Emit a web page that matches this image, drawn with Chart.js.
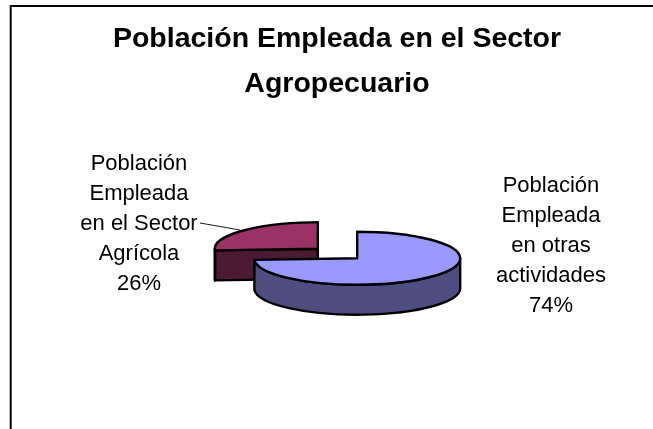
<!DOCTYPE html>
<html>
<head>
<meta charset="utf-8">
<script src="https://cdn.jsdelivr.net/npm/chart.js@4"></script>
<style>
html,body{margin:0;padding:0;background:#fff;width:653px;height:429px;overflow:hidden}
canvas{display:block}
</style>
</head>
<body>
<canvas id="c" width="653" height="429"></canvas>
<script>
const titleLines = ['Población Empleada en el Sector', 'Agropecuario'];
const categories = [
  ['Población', 'Empleada', 'en otras', 'actividades'],
  ['Población', 'Empleada', 'en el Sector', 'Agrícola']
];
const values = [74, 26];
const topColors = ['#9999FF', '#993366'];
const sideColors = ['#4D4D80', '#4D1A33'];

const FONT = '"Liberation Sans", Arial, sans-serif';
const TILT = 0.257;
const DEPTH = 30;
const EDGE = 2.4;
const EXPLODE = 27;
let squishY = 0;

function geometry(el) {
  return {
    x: el.x,
    y: squishY + (el.y - squishY) * TILT,
    r: el.outerRadius,
    a0: el.startAngle,
    a1: el.endAngle
  };
}
function stroke(ctx) {
  ctx.strokeStyle = '#000';
  ctx.lineWidth = EDGE;
  ctx.lineJoin = 'round';
  ctx.stroke();
}
function drawSides(ctx, g, color) {
  const tx = g.x + Math.cos(g.a0) * g.r, ty = g.y + Math.sin(g.a0) * g.r * TILT;
  if (Math.cos(g.a0) < -0.9 && g.a1 - g.a0 < Math.PI) {
    ctx.beginPath();
    ctx.moveTo(g.x, g.y);
    ctx.lineTo(tx, ty);
    ctx.lineTo(tx, ty + DEPTH);
    ctx.lineTo(g.x, g.y + DEPTH);
    ctx.closePath();
    ctx.fillStyle = color;
    ctx.fill();
    stroke(ctx);
  }
  const from = Math.max(g.a0, 0), to = Math.min(g.a1, Math.PI);
  if (to > from) {
    ctx.beginPath();
    ctx.ellipse(g.x, g.y, g.r, g.r * TILT, 0, from, to, false);
    ctx.ellipse(g.x, g.y + DEPTH, g.r, g.r * TILT, 0, to, from, true);
    ctx.closePath();
    ctx.fillStyle = color;
    ctx.fill();
    stroke(ctx);
  }
}
function drawTopEdge(ctx, g) {
  ctx.beginPath();
  ctx.moveTo(g.x, g.y);
  ctx.ellipse(g.x, g.y, g.r, g.r * TILT, 0, g.a0, g.a1, false);
  ctx.closePath();
  stroke(ctx);
}

const pie3d = {
  id: 'pie3d',
  afterDatasetsUpdate(chart) {
    const area = chart.chartArea;
    const cx = (area.left + area.right) / 2;
    squishY = (area.top + area.bottom) / 2;
    chart.getDatasetMeta(0).data.forEach(el => {
      const mid = (el.startAngle + el.endAngle) / 2;
      el.x = cx + Math.cos(mid) * EXPLODE;
      el.y = squishY + Math.sin(mid) * EXPLODE;
    });
  },
  beforeDatasetsDraw(chart) {
    const ctx = chart.ctx;
    const arcs = chart.getDatasetMeta(0).data;
    [1, 0].forEach(i => drawSides(ctx, geometry(arcs[i]), sideColors[i]));
    ctx.save();
    ctx.translate(0, squishY);
    ctx.scale(1, TILT);
    ctx.translate(0, -squishY);
  },
  afterDatasetsDraw(chart) {
    const ctx = chart.ctx;
    ctx.restore();
    const arcs = chart.getDatasetMeta(0).data;
    [1, 0].forEach(i => drawTopEdge(ctx, geometry(arcs[i])));
  }
};

const frameAndLabels = {
  id: 'frameAndLabels',
  beforeDraw(chart) {
    const ctx = chart.ctx;
    ctx.fillStyle = '#fff';
    ctx.fillRect(0, 0, chart.width, chart.height);
    ctx.strokeStyle = '#000';
    ctx.lineWidth = 2;
    ctx.beginPath();
    ctx.moveTo(10.7, chart.height);
    ctx.lineTo(10.7, 6);
    ctx.lineTo(chart.width, 6);
    ctx.stroke();
  },
  afterDraw(chart) {
    const ctx = chart.ctx;
    ctx.save();
    ctx.strokeStyle = '#000';
    ctx.lineWidth = 0.9;
    ctx.beginPath();
    ctx.moveTo(200, 223);
    ctx.lineTo(240, 230);
    ctx.stroke();
    ctx.fillStyle = '#000';
    ctx.textAlign = 'center';
    ctx.textBaseline = 'middle';
    ctx.font = 'bold 28.5px ' + FONT;
    titleLines.forEach((t, j) => ctx.fillText(t, 337, 39.5 + j * 45));
    ctx.font = '22px ' + FONT;
    const place = [{x: 551, y: 186, step: 30}, {x: 139, y: 163.5, step: 30}];
    categories.forEach((lines, i) => {
      const all = lines.concat(values[i] + '%');
      all.forEach((t, j) => ctx.fillText(t, place[i].x, place[i].y + j * place[i].step));
    });
    ctx.restore();
  }
};

new Chart(document.getElementById('c'), {
  type: 'pie',
  data: {
    labels: categories.map(l => l.join(' ')),
    datasets: [{
      data: values,
      backgroundColor: topColors,
      borderWidth: 0,
      radius: 103
    }]
  },
  options: {
    responsive: false,
    animation: false,
    events: [],
    rotation: 0,
    layout: {padding: {left: 187.5, right: 165.5, top: 103.5, bottom: 25.5}},
    plugins: {
      legend: {display: false},
      tooltip: {enabled: false},
      title: {display: false}
    }
  },
  plugins: [frameAndLabels, pie3d]
});
</script>
</body>
</html>
